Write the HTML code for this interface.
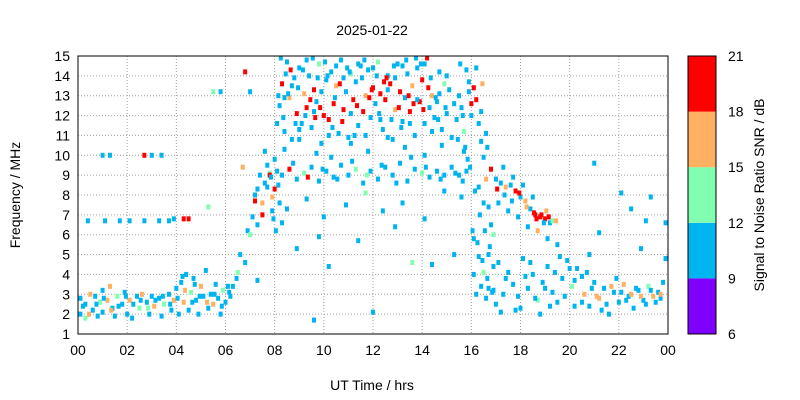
<!DOCTYPE html>
<html><head><meta charset="utf-8">
<style>
body{margin:0;background:#fff;}
svg{display:block;font-family:"Liberation Sans",sans-serif;}
</style></head>
<body>
<svg id="chart" width="800" height="400" viewBox="0 0 800 400" xmlns="http://www.w3.org/2000/svg">
<text x="372" y="35" font-size="14" text-anchor="middle">2025-01-22</text>
<g id="grid"></g>
<g id="marks"></g>
<rect x="78" y="56" width="590" height="278" fill="none" stroke="#000" stroke-width="1"/>
<g id="xt"></g>
<g id="yt"></g>
<text x="372" y="390" font-size="14" text-anchor="middle">UT Time / hrs</text>
<text transform="translate(20,195) rotate(-90)" font-size="14" text-anchor="middle">Frequency / MHz</text>
<g id="cb"></g>
<text transform="translate(764,195) rotate(-90)" font-size="14" text-anchor="middle">Signal to Noise Ratio SNR / dB</text>
</svg>
<script>
const xTickLabels=["00","02","04","06","08","10","12","14","16","18","20","22","00"];
const yTickLabels=[1,2,3,4,5,6,7,8,9,10,11,12,13,14,15];
const cbTickLabels=[6,9,12,15,18,21];
const cbColors=["#8000ff","#00b4f0","#80ffb0","#ffb060","#ff0000"];
const times=[
0.1,0.1,0.3,0.3,0.5,0.6,0.7,0.8,0.9,1.0,1.0,1.2,
1.3,1.4,1.5,1.6,1.8,1.9,2.0,2.1,2.2,2.4,2.5,2.6,
2.8,2.9,3.0,3.1,3.3,3.4,3.5,3.7,3.8,3.9,4.0,4.1,
4.2,4.3,4.4,4.5,4.6,4.7,4.8,4.9,5.0,5.1,5.2,5.3,
5.4,5.5,5.6,5.7,5.8,5.9,6.0,6.1,6.2,0.4,1.1,1.7,
2.1,2.7,3.3,3.9,4.3,4.5,5.3,1.0,1.3,2.7,3.0,3.4,
6.3,6.5,6.6,6.8,6.9,7.0,7.1,7.2,7.3,7.4,7.5,7.6,
7.7,7.8,7.9,8.0,7.2,7.5,6.7,6.8,7.0,7.3,7.6,7.8,
8.2,8.3,8.4,8.5,8.6,8.7,8.8,8.9,9.0,9.1,9.2,9.3,
9.4,9.5,9.6,9.7,9.8,9.9,10.0,10.1,10.2,10.3,10.4,10.5,
10.6,10.7,10.8,10.9,11.0,11.1,11.2,11.3,11.4,11.5,11.6,11.7,
11.8,11.9,12.0,12.1,12.2,12.3,12.4,12.5,12.6,12.7,12.8,12.9,
13.0,13.1,13.2,13.3,13.4,13.5,13.6,13.7,13.8,13.9,14.0,14.1,
14.2,14.3,14.4,14.5,14.6,14.7,14.8,14.9,15.0,15.1,15.2,15.3,
8.25,8.55,8.85,9.15,9.45,9.75,10.05,10.35,10.65,10.95,11.25,11.55,
11.85,12.15,12.45,12.75,13.05,13.35,13.65,13.95,14.25,14.55,8.45,9.65,
8.3,8.6,8.9,9.2,9.5,9.8,10.1,10.4,10.7,11.0,11.3,11.6,
11.9,12.2,12.5,12.8,13.1,13.4,13.7,14.0,14.3,14.6,14.9,15.2,
15.5,15.8,8.4,9.0,9.7,10.3,11.1,11.8,12.6,13.3,14.1,14.8,
8.5,9.3,10.0,10.9,11.7,12.4,13.2,14.1,14.9,15.6,9.8,12.9,
10.2,11.4,13.6,8.9,15.3,7.3,12.0,14.4,9.6,16.0,15.9,15.7,
16.1,16.2,16.3,16.4,16.5,16.6,16.7,16.8,16.1,16.3,16.5,16.7,
16.2,16.4,16.6,16.8,16.15,16.35,16.55,16.75,16.9,16.2,16.45,16.65,
17.0,17.2,17.4,17.6,17.8,18.0,18.2,18.4,18.6,18.8,19.0,19.2,
17.1,17.5,17.9,18.3,18.7,19.1,19.3,19.5,17.3,17.7,18.1,18.5,
16.9,17.1,17.3,17.5,17.7,17.9,18.1,18.3,18.5,18.7,18.9,19.1,
19.3,19.5,19.7,19.9,20.1,20.3,20.5,17.2,18.0,18.8,19.6,20.2,
20.6,20.8,21.0,21.2,21.4,21.6,21.8,22.0,22.2,22.4,22.6,22.8,
23.0,23.2,23.4,23.6,23.8,20.7,21.3,21.9,22.5,23.1,23.7,23.9,
21.0,21.2,22.1,22.5,23.1,23.3,23.9,20.8,22.9,3.7,5.8,5.5,
8.15,8.35,8.65,8.95,9.25,9.55,9.85,10.15,10.45,10.75,11.05,11.35,
11.65,11.95,12.25,12.55,12.85,13.15,13.45,13.75,14.05,14.35,14.65,14.95,
8.1,8.4,8.7,9.0,9.3,9.6,9.9,10.2,10.5,10.8,11.1,11.4,
11.7,12.0,12.3,12.6,12.9,13.2,13.5,13.8,14.1,14.4,14.7,15.0,
8.15,8.75,9.35,9.95,10.55,11.15,11.75,12.35,12.95,13.55,14.15,14.75,
15.35,15.65,15.95,8.0,8.2,7.9,8.1,7.85,7.95,8.05,7.7,8.3,
15.4,15.5,15.6,15.7,15.8,15.9,15.45,15.55,15.65,15.75,15.85,16.0,
16.05,16.25,16.45,16.65,16.85,16.1,16.3,16.5,16.7,16.9,16.4,16.6,
17.05,17.35,17.65,17.95,18.25,18.55,18.85,19.15,19.45,19.05,18.65,18.95,
17.0,17.4,17.8,18.2,18.6,19.0,19.4,19.8,20.2,20.0,19.2,18.4,
0.2,0.45,0.75,1.05,1.35,1.65,1.95,2.25,2.55,2.85,3.15,3.45,
3.75,4.05,4.35,4.65,4.95,5.25,5.55,5.85,6.15,6.45,4.25,4.75,
20.5,20.9,21.1,21.5,21.7,22.1,22.3,22.7,22.9,23.3,23.5,23.7];
const freqs=[
2.0,2.8,1.8,2.5,3.0,2.2,2.9,1.9,2.6,3.2,2.1,2.7,
3.4,2.3,1.9,2.9,2.5,3.1,2.0,2.7,1.8,2.9,2.3,3.0,
2.6,2.0,2.9,2.4,2.8,1.9,2.5,3.0,2.2,2.7,3.3,2.0,
3.6,2.6,4.0,2.2,3.1,3.8,2.7,2.0,3.4,2.9,4.2,2.3,
3.0,2.5,3.5,2.8,2.0,3.2,2.6,3.4,2.9,6.7,6.7,6.7,
6.7,6.7,6.7,6.8,6.8,6.8,7.4,10,10,10,10,10,
3.4,4.1,5.0,4.6,6.2,6.0,6.9,7.7,8.3,9.0,7.6,8.6,
9.5,9.1,7.2,9.8,8.0,7.0,9.4,14.2,13.2,6.5,10.2,9.0,
12.5,13.6,11.2,14.7,12.9,10.8,13.9,12.1,14.4,11.6,13.1,12.4,
14.0,11.4,13.3,12.7,14.6,10.6,12.0,13.8,11.8,14.2,12.6,13.5,
11.1,14.8,12.3,13.2,10.9,14.1,12.8,13.7,11.5,14.5,12.2,13.0,
14.3,11.9,13.4,12.6,14.7,13.1,11.3,12.8,14.0,13.6,10.8,12.3,
14.6,13.2,11.7,12.9,14.1,12.2,13.5,11.0,14.4,12.7,13.8,11.6,
14.9,12.4,13.0,11.9,12.7,14.2,11.3,13.6,12.1,13.3,10.9,12.6,
14.9,13.1,11.6,14.3,12.8,13.9,14.7,11.4,13.6,14.4,11.0,13.9,
12.9,14.0,13.7,11.8,12.4,14.8,12.6,14.6,13.4,12.9,14.1,11.9,
9.0,9.3,8.8,9.1,9.4,8.7,9.2,8.9,9.5,9.0,9.3,8.6,
9.2,8.8,9.4,9.0,9.6,8.7,9.3,9.1,8.9,9.2,9.0,9.4,
9.0,9.2,10.3,10.8,10.1,9.9,10.6,10.2,10.9,10.4,10.0,10.5,
7.3,7.8,6.9,7.5,8.1,7.2,7.6,6.8,8.2,7.9,5.9,6.4,
4.4,5.7,4.6,5.3,5.0,3.7,2.1,4.5,1.7,12.0,13.2,10.2,
13.4,12.8,11.6,10.7,9.9,8.8,7.4,6.5,5.8,4.9,4.1,3.3,
14.4,12.2,11.1,9.3,8.2,7.0,6.2,5.4,4.4,3.0,13.6,10.4,
8.8,8.6,8.4,8.5,8.2,7.9,7.7,7.3,7.0,6.9,6.8,6.6,
7.6,7.2,6.9,6.4,6.2,5.8,6.7,5.5,9.4,8.9,8.5,7.9,
3.2,4.6,3.0,4.1,3.5,2.9,4.8,3.3,4.0,2.7,3.6,4.4,
3.1,2.6,3.8,4.7,3.4,4.3,3.9,2.1,2.3,2.0,4.9,2.4,
3.0,2.4,3.6,2.8,3.3,2.0,3.1,2.6,3.5,2.9,2.3,3.2,
2.7,3.4,2.9,3.1,3.6,4.1,2.2,3.8,3.0,2.5,2.8,4.8,
9.6,6.1,8.1,7.3,6.7,7.9,6.6,5.0,5.3,6.7,13.2,13.2,
13.0,11.9,14.3,13.4,12.0,14.9,12.4,14.0,12.9,11.7,14.2,12.5,
14.8,13.3,12.1,13.9,14.5,11.4,13.0,14.9,12.3,13.9,11.8,12.4,
11.6,12.9,13.5,11.3,14.8,12.2,13.2,11.0,14.5,13.9,12.1,14.6,
11.0,14.4,11.8,13.3,13.9,14.5,11.6,12.8,14.6,11.2,13.1,14.0,
8.5,9.6,8.9,9.3,8.8,9.7,9.0,9.5,8.6,9.9,9.4,8.8,
9.1,8.7,9.4,8.3,7.6,7.9,9.2,8.9,6.8,6.2,8.4,6.6,
11.8,13.0,12.4,11.2,14.3,13.7,10.8,14.6,12.0,10.4,9.8,12.6,
6.2,5.6,4.7,3.8,3.1,4.0,8.4,7.6,5.0,6.0,3.4,2.8,
8.3,8.0,7.7,8.1,7.4,7.1,7.0,6.9,6.7,7.2,6.8,6.6,
2.5,3.8,2.2,3.9,2.8,3.3,4.1,2.9,3.7,4.3,2.4,4.6,
2.4,2.0,2.5,2.8,2.2,2.4,2.9,2.5,2.7,2.3,2.7,2.9,
2.5,2.8,3.2,2.6,2.9,2.6,3.0,2.4,3.1,3.8,3.9,3.5,
2.6,3.3,2.9,2.5,3.4,3.1,2.7,3.3,2.9,3.2,2.6,3.0];
const snrs=[
10,10,13,10,16,10,10,10,13,10,10,16,
16,10,10,13,10,10,10,16,10,10,13,16,
10,10,10,16,10,10,13,10,10,16,10,10,
10,16,10,10,13,10,10,10,16,10,10,10,
10,16,10,10,10,13,10,10,10,10,10,10,
10,10,10,10,19,19,13,10,10,19,10,10,
10,13,10,10,10,13,10,19,10,10,16,10,
10,13,10,10,10,19,16,19,10,10,10,19,
10,19,10,10,16,10,10,19,10,10,16,19,
10,10,19,10,13,10,19,10,19,10,19,16,
10,10,19,10,10,13,19,10,10,10,19,16,
10,10,19,10,13,19,10,19,10,19,10,16,
10,19,10,10,10,19,16,10,10,19,19,10,
19,10,16,10,10,10,10,13,10,10,10,10,
10,10,10,10,19,10,10,10,19,10,10,10,
19,10,19,10,19,10,19,10,19,10,10,19,
10,19,10,13,10,10,10,10,10,10,13,10,
10,10,10,10,10,10,10,13,10,10,10,10,
10,10,10,10,10,10,10,10,10,10,10,10,
10,10,10,10,13,10,10,10,10,10,10,10,
10,10,13,10,10,10,10,10,10,10,10,10,
19,19,10,10,10,16,10,10,10,10,13,10,
10,10,10,19,10,10,10,10,10,10,16,10,
10,10,16,10,19,10,16,10,19,19,19,10,
10,10,10,10,16,10,13,10,10,10,10,10,
10,10,10,10,10,10,10,10,10,13,10,10,
10,10,10,10,13,10,10,10,10,10,10,10,
16,10,10,16,10,10,10,10,16,10,10,10,
10,13,16,10,10,10,10,10,16,10,10,10,
10,10,10,10,10,10,10,10,10,10,10,13,
10,10,19,10,10,10,19,10,10,19,10,19,
10,19,10,19,10,10,19,10,19,10,10,10,
10,10,10,10,10,10,10,10,10,10,10,10,
10,10,10,10,10,10,10,10,10,10,10,10,
10,10,19,10,10,10,13,10,10,10,10,10,
10,10,10,19,10,16,10,10,10,10,10,10,
10,10,10,13,10,10,10,10,10,10,10,19,
10,10,10,10,10,10,10,10,10,13,10,10,
19,10,10,19,16,19,19,19,16,16,19,10,
10,10,10,10,10,10,10,10,10,10,10,10,
10,16,10,10,16,10,10,10,10,13,10,10,
10,10,16,10,10,16,10,10,10,10,10,10,
10,10,16,10,16,10,10,10,16,10,10,16];

const NS="http://www.w3.org/2000/svg";
const X0=78,X1=668,Y0=334,Y1=56;
const xs=t=>X0+(t/24)*(X1-X0);
const ys=f=>Y0-((f-1)/14)*(Y0-Y1);
const cs=v=>Y0-((v-6)/15)*(Y0-Y1);
function mk(tag,attrs,parent){const e=document.createElementNS(NS,tag);for(const k in attrs)e.setAttribute(k,attrs[k]);parent.appendChild(e);return e;}
const grid=document.getElementById('grid'),xt=document.getElementById('xt'),yt=document.getElementById('yt'),marks=document.getElementById('marks'),cb=document.getElementById('cb');
xTickLabels.forEach((lab,i)=>{
  const x=xs(i*2);
  const g=mk('line',{x1:x,x2:x,y1:Y1,y2:Y0,stroke:'#a0a0a0','stroke-dasharray':'1,2'},grid);
  
  
  const t=mk('text',{x:x,y:Y0+21,'font-size':14,'text-anchor':'middle'},xt);t.textContent=lab;
  
  
});
yTickLabels.forEach(v=>{
  const y=ys(v);
  const g=mk('line',{x1:X0,x2:X1,y1:y,y2:y,stroke:'#a0a0a0','stroke-dasharray':'1,2'},grid);
  
  
  const t=mk('text',{x:X0-8,y:y+5,'font-size':14,'text-anchor':'end'},yt);t.textContent=v;
  
  
});
function colorFor(s){const i=Math.min(4,Math.max(0,Math.floor((s-6)/3)));return cbColors[i];}
const n=Math.min(times.length,freqs.length,snrs.length);
for(let i=0;i<n;i++){
  const r=mk('rect',{x:xs(times[i])-2,y:ys(freqs[i])-2.5,width:4,height:5,fill:colorFor(snrs[i])},marks);
  
  
}
cbColors.forEach((c,i)=>{
  const lo=6+i*3,hi=lo+3;
  const r=mk('rect',{x:688,y:cs(hi),width:28,height:cs(lo)-cs(hi),fill:c},cb);
  
  
});
mk('rect',{x:688,y:Y1,width:28,height:Y0-Y1,fill:'none',stroke:'#000'},cb);
cbTickLabels.forEach(v=>{
  const t=mk('text',{x:728,y:cs(v)+5,'font-size':14},cb);t.textContent=v;
  
  
});
</script>
</body></html>
